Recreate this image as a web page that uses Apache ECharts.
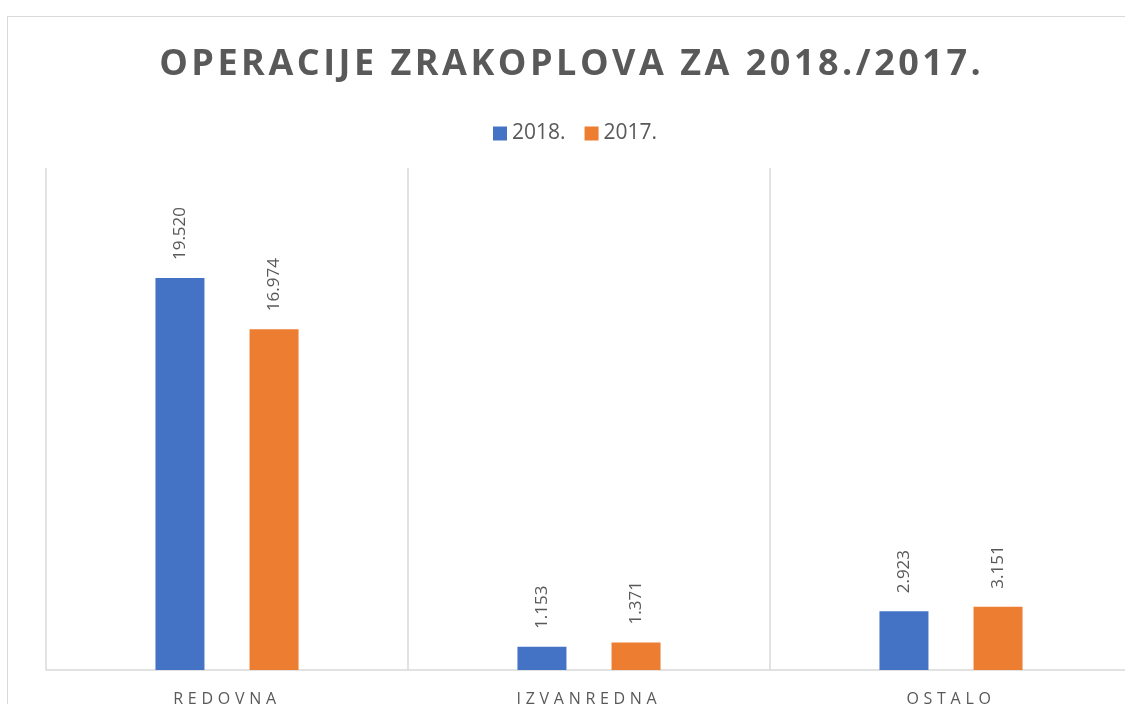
<!DOCTYPE html>
<html>
<head>
<meta charset="utf-8">
<script src="https://cdn.jsdelivr.net/npm/echarts@6/dist/echarts.min.js"></script>
<style>
html,body{margin:0;padding:0;width:1125px;height:704px;overflow:hidden;background:#fff;}
#frame{position:absolute;left:7px;top:16px;width:1124px;height:720px;border-left:1px solid #d9d9d9;border-top:1px solid #d9d9d9;}
#chart{width:1124px;height:720px;}
</style>
</head>
<body>
<div id="frame"><div id="chart"></div></div>
<script>
const titleText = 'OPERACIJE ZRAKOPLOVA ZA 2018./2017.';
const categories = ['REDOVNA', 'IZVANREDNA', 'OSTALO'];
const seriesNames = ['2018.', '2017.'];
const values2018 = [19520, 1153, 2923];
const values2017 = [16974, 1371, 3151];

function fmt(v) {
  return String(v).replace(/\B(?=(\d{3})+(?!\d))/g, '.');
}
// letter-spaced text via rich fragments (one fragment per character)
function spaced(str, tag) {
  return str.split('').map(c => '{' + tag + '|' + c + '}').join('');
}

const chart = echarts.init(document.getElementById('chart'), null, {renderer: 'canvas'});
const labelCfg = {
  show: true,
  position: 'top',
  rotate: 90,
  align: 'left',
  verticalAlign: 'middle',
  distance: 18,
  color: '#595959',
  fontSize: 17,
  fontFamily: 'Open Sans',
  formatter: p => fmt(p.value)
};
chart.setOption({
  animation: false,
  color: ['#4472C4', '#ED7D31'],
  title: {
    text: spaced(titleText, 't'),
    left: 'center',
    top: 25,
    textStyle: {
      fontFamily: 'Open Sans', fontWeight: 'bold', fontSize: 36, color: '#595959',
      rich: {t: {fontFamily: 'Open Sans', fontWeight: 'bold', fontSize: 36, color: '#595959', padding: [0, 1.75, 0, 1.75]}}
    }
  },
  legend: {
    data: seriesNames,
    top: 101,
    left: 480,
    icon: 'rect',
    itemWidth: 14,
    itemHeight: 14,
    itemGap: 19,
    textStyle: {fontFamily: 'Open Sans', fontSize: 21, color: '#595959'}
  },
  grid: {left: 38, top: 151, width: 1089, height: 502, containLabel: false},
  xAxis: {
    type: 'category',
    data: categories,
    boundaryGap: true,
    axisLine: {show: true, lineStyle: {color: '#d9d9d9', width: 1.5}},
    axisTick: {show: false},
    splitLine: {show: true, interval: 0, lineStyle: {color: '#d9d9d9', width: 1.5}},
    axisLabel: {
      margin: 21, color: '#595959', fontSize: 16, fontFamily: 'Open Sans', interval: 0,
      formatter: v => spaced(v, 's'),
      rich: {s: {color: '#595959', fontSize: 16, fontFamily: 'Open Sans', padding: [0, 4.7, 0, 0]}}
    }
  },
  yAxis: {
    type: 'value',
    min: 0,
    max: 25000,
    show: false,
    splitLine: {show: false}
  },
  series: [
    {name: seriesNames[0], type: 'bar', data: values2018, barWidth: 49, barGap: '92%', label: labelCfg},
    {name: seriesNames[1], type: 'bar', data: values2017, barWidth: 49, barGap: '92%', label: labelCfg}
  ]
});
</script>
</body>
</html>
